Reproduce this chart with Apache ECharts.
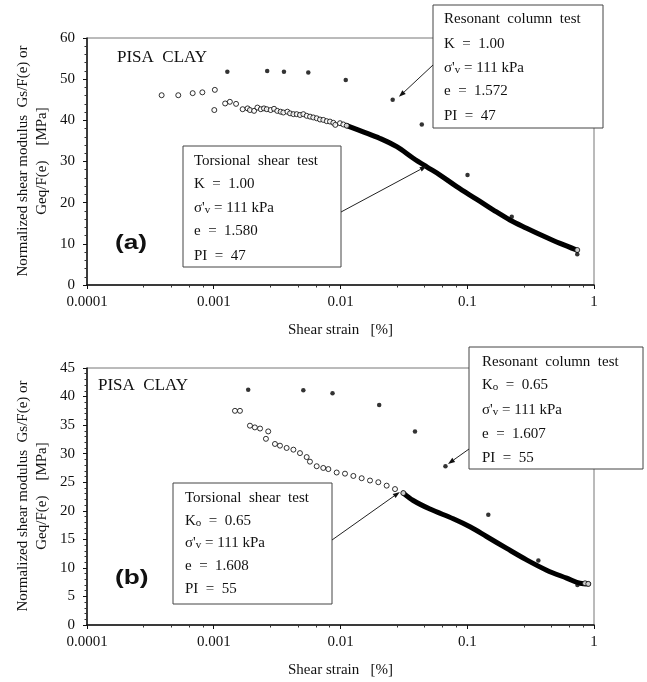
<!DOCTYPE html>
<html><head><meta charset="utf-8">
<script src="https://cdn.jsdelivr.net/npm/echarts@6/dist/echarts.min.js"></script>
<style>html,body{margin:0;padding:0;background:#fff}#c{width:647px;height:682px}</style>
</head><body><div id="c"></div>
<script>
// ---------- data ----------
const xTickLabels = ['0.0001', '0.001', '0.01', '0.1', '1'];
const yMaxA = 60, yStepA = 10;
const yMaxB = 45, yStepB = 5;

// (a) resonant column test (filled dots)
const rcA = [[0.00128,51.8],[0.00264,52.0],[0.00358,51.8],[0.00557,51.6],[0.0110,49.8],[0.0258,45.0],[0.0438,39.0],[0.1005,26.7],[0.2244,16.6],[0.738,7.5]];
// (a) torsional shear test, individual readings (open circles)
const tsPtsA = [[0.000388,46.1],[0.000525,46.1],[0.000682,46.6],[0.000813,46.8],[0.00102,47.4],[0.00101,42.5],[0.00123,44.1],[0.00134,44.5],[0.00150,44.0],[0.00169,42.7],[0.00185,42.9],[0.00193,42.5],[0.00208,42.3],[0.00221,43.1],[0.00235,42.7],[0.00249,42.9],[0.00262,42.7],[0.00281,42.5],[0.00299,42.8],[0.00317,42.3],[0.00337,42.1],[0.00354,41.9],[0.00381,42.1],[0.00400,41.7],[0.00425,41.5],[0.00451,41.5],[0.00479,41.3],[0.00509,41.5],[0.00541,41.1],[0.00575,40.9],[0.00610,40.7],[0.00649,40.5],[0.00689,40.2],[0.00732,40.1],[0.00778,39.8],[0.00826,39.7],[0.00878,39.4],[0.00910,38.9],[0.00991,39.3],[0.01053,39.0],[0.01119,38.7],[0.738,8.5]];
// (a) torsional shear test, dense run (overlapping readings)
const tsRunA = [[0.0112,38.7],[0.0151,37.2],[0.0205,35.6],[0.0278,33.6],[0.0375,30.8],[0.0479,28.7],[0.0610,26.7],[0.0826,23.9],[0.119,20.8],[0.161,18.2],[0.217,15.8],[0.294,13.8],[0.398,11.9],[0.540,10.1],[0.730,8.5]];

// (b) resonant column test
const rcB = [[0.00187,41.2],[0.00509,41.1],[0.00865,40.6],[0.0202,38.5],[0.0387,33.9],[0.0673,27.8],[0.1466,19.3],[0.364,11.3],[0.74,7.0]];
// (b) torsional shear test, individual readings
const tsPtsB = [[0.00147,37.5],[0.00161,37.5],[0.00193,34.9],[0.00211,34.6],[0.00232,34.4],[0.00269,33.9],[0.00258,32.6],[0.00304,31.7],[0.00333,31.4],[0.00376,31.0],[0.00425,30.7],[0.00479,30.1],[0.00541,29.4],[0.00574,28.6],[0.00649,27.8],[0.00731,27.5],[0.00802,27.3],[0.00933,26.7],[0.01085,26.5],[0.01263,26.1],[0.01469,25.7],[0.01709,25.3],[0.01988,25.0],[0.02313,24.4],[0.02692,23.8],[0.03131,23.1],[0.85,7.3],[0.902,7.2]];
// (b) torsional shear test, dense run
const tsRunB = [[0.0313,23.1],[0.0375,21.8],[0.0508,20.3],[0.0776,18.6],[0.105,17.2],[0.142,15.5],[0.205,13.4],[0.294,11.4],[0.423,9.6],[0.609,8.2],[0.776,7.3],[0.902,7.2]];

// annotation texts
const yTitle1 = 'Normalized shear modulus  Gs/F(e) or';
const yTitle2 = 'Geq/F(e)    [MPa]';
const xTitle = 'Shear strain   [%]';
const sampleName = 'PISA  CLAY';
const boxA_ts = ['Torsional  shear  test', 'K  =  1.00', 'SIG', 'e  =  1.580', 'PI  =  47'];
const boxA_rc = ['Resonant  column  test', 'K  =  1.00', 'SIG', 'e  =  1.572', 'PI  =  47'];
const boxB_ts = ['Torsional  shear  test', 'KO', 'SIG', 'e  =  1.608', 'PI  =  55'];
const boxB_rc = ['Resonant  column  test', 'KO', 'SIG', 'e  =  1.607', 'PI  =  55'];

// ---------- chart ----------
const SERIF = '"Liberation Serif", "Times New Roman", serif';
const chart = echarts.init(document.getElementById('c'), null, {renderer: 'canvas'});

function xAxisCfg(gi) {
  return {
    type: 'log', logBase: 10, min: 0.0001, max: 1, gridIndex: gi,
    axisLine: {lineStyle: {color: '#111', width: 1.5}},
    axisTick: {show: true, length: 4, lineStyle: {color: '#111'}},
    minorTick: {show: true, splitNumber: 5, length: 2.5, lineStyle: {color: '#333'}},
    splitLine: {show: false},
    axisLabel: {
      fontFamily: SERIF, fontSize: 15, color: '#111', margin: 10,
      formatter: v => xTickLabels[Math.round(Math.log10(v)) + 4]
    },
    name: xTitle, nameLocation: 'middle', nameGap: 38,
    nameTextStyle: {fontFamily: SERIF, fontSize: 15, color: '#111'}
  };
}
function yAxisCfg(gi, max, step) {
  return {
    type: 'value', min: 0, max: max, interval: step, gridIndex: gi,
    axisLine: {show: true, lineStyle: {color: '#111', width: 1.5}},
    axisTick: {show: true, length: 4, lineStyle: {color: '#111'}},
    minorTick: {show: true, splitNumber: 5, length: 2.5, lineStyle: {color: '#333'}},
    splitLine: {show: false},
    axisLabel: {fontFamily: SERIF, fontSize: 15, color: '#111', margin: 12}
  };
}
function seriesFor(gi, rc, pts, run) {
  return [
    {type: 'line', xAxisIndex: gi, yAxisIndex: gi, data: run, symbol: 'none', smooth: 0.35,
     lineStyle: {color: '#000', width: 5, cap: 'round', join: 'round'}, z: 2, animation: false},
    {type: 'scatter', xAxisIndex: gi, yAxisIndex: gi, data: pts, symbol: 'circle', symbolSize: 5,
     itemStyle: {color: '#fff', borderColor: '#000', borderWidth: 1}, z: 3, animation: false},
    {type: 'scatter', xAxisIndex: gi, yAxisIndex: gi, data: rc, symbol: 'circle', symbolSize: 4.5,
     itemStyle: {color: '#000'}, z: 4, animation: false}
  ];
}

chart.setOption({
  animation: false,
  backgroundColor: '#fff',
  grid: [
    {left: 87, top: 38, width: 507, height: 247, show: true, borderColor: '#777', borderWidth: 1},
    {left: 87, top: 368, width: 507, height: 257, show: true, borderColor: '#777', borderWidth: 1}
  ],
  xAxis: [xAxisCfg(0), xAxisCfg(1)],
  yAxis: [yAxisCfg(0, yMaxA, yStepA), yAxisCfg(1, yMaxB, yStepB)],
  series: [...seriesFor(0, rcA, tsPtsA, tsRunA), ...seriesFor(1, rcB, tsPtsB, tsRunB)]
});

// ---------- annotations ----------
const G = [];
function txt(x, y, s, opt) {
  opt = opt || {};
  G.push({type: 'text', x: x, y: y, z: 20, rotation: opt.rot || 0, scaleX: opt.sx || 1,
    style: {text: s, font: opt.font || ('15px ' + SERIF), fill: '#111',
      align: opt.align || 'left', verticalAlign: 'middle', textAlign: opt.align || 'left', textVerticalAlign: 'middle',
      rich: {
        m: {fontSize: 15, fontFamily: SERIF, fill: '#111', lineHeight: 18, verticalAlign: 'bottom'},
        s: {fontSize: 11, fontFamily: SERIF, fill: '#111', lineHeight: 14, verticalAlign: 'bottom', padding: [0, 0, 0, 0]}
      }}});
}
function lineText(s) {
  if (s === 'SIG') return "{m|σ'}{s|v}{m| = 111 kPa}";
  if (s === 'KO') return '{m|K}{s|o}{m|  =  0.65}';
  return '{m|' + s + '}';
}
function box(x, y, w, h, tx, ys, lines) {
  G.push({type: 'rect', z: 15, shape: {x: x, y: y, width: w, height: h},
    style: {fill: '#fff', stroke: '#444', lineWidth: 1}});
  lines.forEach((s, i) => txt(tx, ys[i], lineText(s)));
}
function arrow(x0, y0, gi, target) {
  const p = chart.convertToPixel({gridIndex: gi}, target);
  const dx = p[0] - x0, dy = p[1] - y0, L = Math.hypot(dx, dy);
  const ux = dx / L, uy = dy / L, hl = 7, hw = 2.5;
  const bx = p[0] - ux * hl, by = p[1] - uy * hl;
  G.push({type: 'line', z: 16, shape: {x1: x0, y1: y0, x2: bx, y2: by}, style: {stroke: '#222', lineWidth: 1}});
  G.push({type: 'polygon', z: 16, shape: {points: [[p[0], p[1]], [bx - uy * hw, by + ux * hw], [bx + uy * hw, by - ux * hw]]},
    style: {fill: '#111'}});
}

// panel (a)
txt(117, 58, sampleName, {font: '17px ' + SERIF});
txt(115, 243, '(a)', {font: 'bold 21px "Liberation Sans", Arial, sans-serif', sx: 1.25});
box(183, 146, 158, 121, 194, [160, 183, 207, 230, 255], boxA_ts);
box(433, 5, 170, 123, 444, [18, 43, 67, 90, 115], boxA_rc);
arrow(433, 65, 0, [0.0289, 45.7]);
arrow(341, 212, 0, [0.0479, 28.9]);
txt(23, 161, yTitle1, {rot: Math.PI / 2, align: 'center'});
txt(42, 161, yTitle2, {rot: Math.PI / 2, align: 'center'});

// panel (b)
txt(98, 386, sampleName, {font: '17px ' + SERIF});
txt(115, 578, '(b)', {font: 'bold 21px "Liberation Sans", Arial, sans-serif', sx: 1.25});
box(173, 483, 159, 121, 185, [497, 520, 542, 565, 588], boxB_ts);
box(469, 347, 174, 122, 482, [361, 384, 409, 433, 457], boxB_rc);
arrow(469, 449, 1, [0.0705, 28.2]);
arrow(332, 540, 1, [0.0294, 23.3]);
txt(23, 496, yTitle1, {rot: Math.PI / 2, align: 'center'});
txt(42, 496, yTitle2, {rot: Math.PI / 2, align: 'center'});

chart.setOption({graphic: G});
</script>
</body></html>
